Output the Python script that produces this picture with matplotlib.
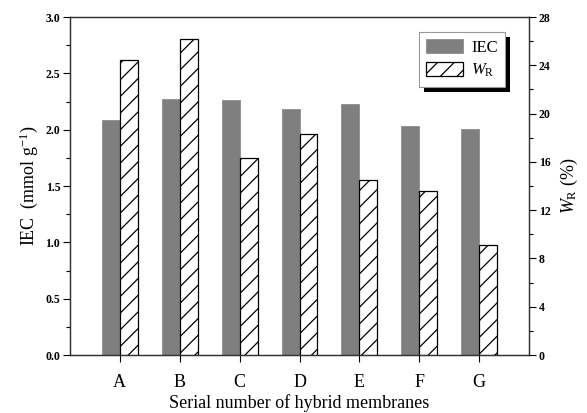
import numpy as np
import matplotlib
matplotlib.use('Agg')
import matplotlib.pyplot as plt
import matplotlib.patches as patches
from matplotlib.transforms import IdentityTransform
from matplotlib.ticker import MultipleLocator

plt.rcParams['font.family'] = ['Liberation Serif', 'DejaVu Serif']
plt.rcParams['mathtext.fontset'] = 'custom'
plt.rcParams['mathtext.rm'] = 'Liberation Serif'
plt.rcParams['mathtext.it'] = 'Liberation Serif:italic'
plt.rcParams['hatch.linewidth'] = 0.9

# data
membranes = ['A', 'B', 'C', 'D', 'E', 'F', 'G']
iec = [2.09, 2.27, 2.26, 2.18, 2.23, 2.03, 2.01]          # mmol/g, left axis
water_uptake = [24.4, 26.2, 16.3, 18.3, 14.5, 13.6, 9.1]  # %, right axis

x = np.arange(1, len(membranes) + 1)
w = 0.3

fig, ax = plt.subplots(figsize=(5.87, 4.13), dpi=100)
fig.subplots_adjust(left=0.1193, right=0.9012, top=0.9588, bottom=0.1404)
ax2 = ax.twinx()

b1 = ax.bar(x - w / 2, iec, w, color='#7f7f7f', edgecolor='#8c8c8c', lw=0.6, label='IEC')
b2 = ax2.bar(x + w / 2, water_uptake, w, color='white', edgecolor='black', lw=0.9,
             hatch='//', label='$W_{\\mathrm{R}}$')

ax.set_xlim(0.17, 7.83)
ax.set_ylim(0, 3.0)
ax2.set_ylim(0, 28)

ax.set_xticks(x)
ax.set_xticklabels(membranes, fontsize=13)
ax.yaxis.set_major_locator(MultipleLocator(0.5))
ax.yaxis.set_minor_locator(MultipleLocator(0.25))
ax2.yaxis.set_major_locator(MultipleLocator(4))
ax2.yaxis.set_minor_locator(MultipleLocator(2))

ax.tick_params(axis='y', which='major', length=5, width=0.8, labelsize=8.5, pad=2)
ax.tick_params(axis='y', which='minor', length=3, width=0.8)
ax.tick_params(axis='x', length=5, width=0.8, pad=9)
ax2.tick_params(axis='y', which='major', length=5, width=0.8, labelsize=8.5, pad=2)
ax2.tick_params(axis='y', which='minor', length=3, width=0.8)
for lab in ax.get_yticklabels() + ax2.get_yticklabels():
    lab.set_fontweight('bold')

for a in (ax, ax2):
    for s in a.spines.values():
        s.set_linewidth(0.9)
        s.set_color('#333333')

ax.set_xlabel('Serial number of hybrid membranes', fontsize=13, labelpad=2)
ax.set_ylabel('IEC  (mmol g$^{-1}$)', fontsize=13, labelpad=4)
ax2.set_ylabel('$W_{\\mathrm{R}}$ (%)', fontsize=13, labelpad=6)

leg = ax2.legend([b1, b2], ['IEC', '$W_{\\mathrm{R}}$'], loc='upper right',
                 bbox_to_anchor=(0.948, 0.956), borderaxespad=0, fontsize=12,
                 fancybox=False, framealpha=1, edgecolor='#999999',
                 handlelength=2.2, handleheight=0.9, handletextpad=0.5,
                 borderpad=0.45, labelspacing=0.35)
leg.get_frame().set_linewidth(0.8)

# black drop shadow behind the legend box
fig.canvas.draw()
bb = leg.get_window_extent()
ax2.add_patch(patches.Rectangle((bb.x0 + 5, bb.y0 - 5), bb.width, bb.height,
                                transform=IdentityTransform(), facecolor='black',
                                edgecolor='none', zorder=4.9, clip_on=False))

fig.savefig('out.png', dpi=100)
